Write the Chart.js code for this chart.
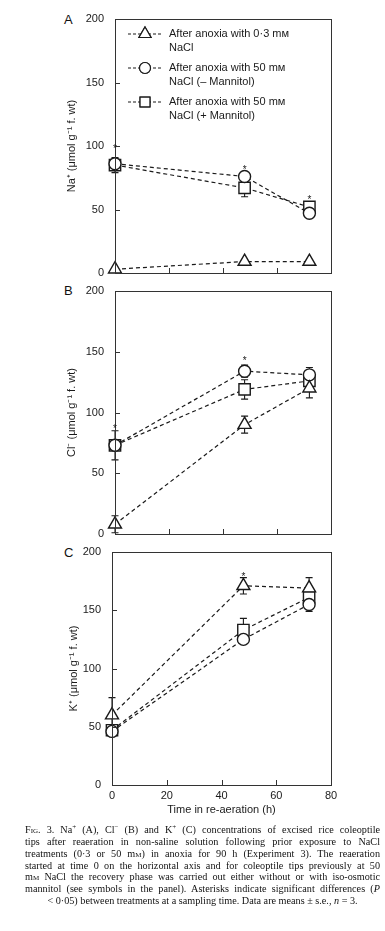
<!DOCTYPE html>
<html>
<head>
<meta charset="utf-8">
<script src="https://cdn.jsdelivr.net/npm/chart.js@4.4.1/dist/chart.umd.min.js"></script>
<style>
body { margin: 0; background: #fff; width: 385px; height: 931px; position: relative; overflow: hidden; font-family: "Liberation Sans", Arial, sans-serif; }
canvas { position: absolute; left: 0; }
.letter { position: absolute; left: 64px; font-size: 13px; line-height: 15px; color: #111; }
#caption { position: absolute; left: 25px; top: 822px; width: 355px; font-family: "Liberation Serif", serif; font-size: 10.2px; line-height: 11.7px; color: #111; }
#caption div { text-align: justify; text-align-last: justify; white-space: nowrap; }
#caption div.last { text-align: center; text-align-last: center; }
.sc { font-variant: small-caps; }
</style>
</head>
<body>
<div class="letter" style="top:12px">A</div>
<div class="letter" style="top:283px">B</div>
<div class="letter" style="top:545px">C</div>
<canvas id="chartA" width="385" height="285" style="top:0px"></canvas>
<canvas id="chartB" width="385" height="265" style="top:280px"></canvas>
<canvas id="chartC" width="385" height="280" style="top:540px"></canvas>
<div id="caption">
<div><span class="sc">Fig</span>. 3. Na<sup style="font-size:7px">+</sup> (A), Cl<sup style="font-size:7px">−</sup> (B) and K<sup style="font-size:7px">+</sup> (C) concentrations of excised rice coleoptile</div>
<div>tips after reaeration in non-saline solution following prior exposure to NaCl</div>
<div>treatments (0·3 or 50 m<span class="sc">m</span>) in anoxia for 90 h (Experiment 3). The reaeration</div>
<div>started at time 0 on the horizontal axis and for coleoptile tips previously at 50</div>
<div>m<span class="sc">m</span> NaCl the recovery phase was carried out either without or with iso-osmotic</div>
<div>mannitol (see symbols in the panel). Asterisks indicate significant differences (<i>P</i></div>
<div class="last">&lt; 0·05) between treatments at a sampling time. Data are means ± s.e., <i>n</i> = 3.</div>
</div>
<script>
// sampling times (h)
const times = [0, 48, 72];

// A: Na+
const naTri = [3, 9, 9];
const naTriErr = [0, 0, 0];
const naCirc = [86, 76, 47];
const naCircErr = [3, 2, 2];
const naSq = [85, 67, 52];
const naSqErr = [6, 7, 4];
const naStars = [101, 85, 61];

// B: Cl-
const clTri = [8, 90, 120];
const clTriErr = [7, 7, 8];
const clCirc = [73, 134, 131];
const clCircErr = [3, 5, 6];
const clSq = [73, 119, 126];
const clSqErr = [12, 8, 5];
const clStars = [90, 146, null];

// C: K+
const kTri = [60, 171, 169];
const kTriErr = [15, 7, 9];
const kCirc = [46, 125, 155];
const kCircErr = [2, 3, 6];
const kSq = [47, 133, 161];
const kSqErr = [4, 10, 5];
const kStars = [null, 183, null];

const yTicks = [0, 50, 100, 150, 200];
const xTicks = [0, 20, 40, 60, 80];

const legendLines = [
    ['After anoxia with 0·3 mᴍ', 'NaCl'],
    ['After anoxia with 50 mᴍ', 'NaCl (– Mannitol)'],
    ['After anoxia with 50 mᴍ', 'NaCl (+ Mannitol)']
];
const legendStyles = ['triangle', 'circle', 'rect'];

const ink = '#1a1a1a';
const fontFamily = '"Liberation Sans", Arial, sans-serif';

function series(values, errors, style, radius) {
    return {
        data: times.map((t, i) => ({ x: t, y: values[i] })),
        errors: errors,
        borderColor: ink,
        borderWidth: 1.2,
        borderDash: [4, 3],
        pointStyle: style,
        pointRadius: radius,
        pointBorderWidth: 1.4,
        pointBorderColor: ink,
        pointBackgroundColor: '#fff',
        clip: false,
        tension: 0
    };
}

// error bars go under the markers
const errorBars = {
    id: 'errorBars',
    beforeDatasetsDraw(chart) {
        const ctx = chart.ctx;
        const ys = chart.scales.y;
        ctx.save();
        ctx.strokeStyle = ink;
        ctx.lineWidth = 1.1;
        chart.data.datasets.forEach(ds => {
            ds.data.forEach((p, i) => {
                const e = ds.errors[i];
                if (!e) return;
                const px = chart.scales.x.getPixelForValue(p.x);
                const top = ys.getPixelForValue(p.y + e);
                const bot = ys.getPixelForValue(p.y - e);
                ctx.beginPath();
                ctx.moveTo(px, top); ctx.lineTo(px, bot);
                ctx.moveTo(px - 3.5, top); ctx.lineTo(px + 3.5, top);
                ctx.moveTo(px - 3.5, bot); ctx.lineTo(px + 3.5, bot);
                ctx.stroke();
            });
        });
        ctx.restore();
    }
};

// box round the plot, inward ticks, asterisks
const frame = {
    id: 'frame',
    afterDraw(chart) {
        const ctx = chart.ctx;
        const a = chart.chartArea;
        const xs = chart.scales.x, ys = chart.scales.y;
        ctx.save();
        ctx.strokeStyle = '#333';
        ctx.lineWidth = 1;
        ctx.strokeRect(Math.round(a.left) + 0.5, Math.round(a.top) + 0.5, Math.round(a.right - a.left), Math.round(a.bottom - a.top));
        ctx.beginPath();
        xTicks.slice(1, -1).forEach(t => {
            const px = Math.round(xs.getPixelForValue(t)) + 0.5;
            ctx.moveTo(px, a.bottom); ctx.lineTo(px, a.bottom - 5);
        });
        yTicks.slice(1, -1).forEach(t => {
            const py = Math.round(ys.getPixelForValue(t)) + 0.5;
            ctx.moveTo(a.left, py); ctx.lineTo(a.left + 5, py);
        });
        ctx.stroke();
        const stars = chart.options.stars || [];
        ctx.fillStyle = ink;
        ctx.font = '10px ' + fontFamily;
        ctx.textAlign = 'center';
        ctx.textBaseline = 'middle';
        stars.forEach((v, i) => {
            if (v == null) return;
            ctx.fillText('*', xs.getPixelForValue(times[i]), ys.getPixelForValue(v) + 5);
        });
        ctx.restore();
    }
};

const legendBox = {
    id: 'legendBox',
    afterDraw(chart) {
        if (!chart.options.showKey) return;
        const ctx = chart.ctx;
        ctx.save();
        ctx.font = '11px ' + fontFamily;
        ctx.fillStyle = ink;
        ctx.strokeStyle = ink;
        ctx.textBaseline = 'middle';
        legendLines.forEach((lines, i) => {
            const cy = 34 + i * 34;
            ctx.lineWidth = 1.1;
            ctx.setLineDash([3, 2]);
            ctx.beginPath();
            ctx.moveTo(128, cy); ctx.lineTo(163, cy);
            ctx.stroke();
            ctx.setLineDash([]);
            ctx.lineWidth = 1.2;
            const r = legendStyles[i] === 'circle' ? 5.5 : 7;
            Chart.helpers.drawPoint(ctx, { pointStyle: legendStyles[i], radius: r, borderWidth: 1.2 }, 145, cy);
            ctx.fillStyle = '#fff';
            ctx.fill();
            ctx.stroke();
            ctx.fillStyle = ink;
            ctx.fillText(lines[0], 169, cy);
            ctx.fillText(lines[1], 169, cy + 13.5);
        });
        ctx.restore();
    }
};

function makePanel(id, cfg) {
    const font = { family: fontFamily, size: 11 };
    new Chart(document.getElementById(id), {
        type: 'line',
        data: {
            datasets: [
                series(cfg.tri, cfg.triErr, 'triangle', 7.5),
                series(cfg.circ, cfg.circErr, 'circle', 6),
                series(cfg.sq, cfg.sqErr, 'rect', 8)
            ]
        },
        options: {
            responsive: false,
            animation: false,
            stars: cfg.stars,
            showKey: cfg.showKey,
            layout: { padding: { top: cfg.padTop, right: 54, bottom: cfg.padBottom, left: 0 } },
            plugins: { legend: { display: false }, tooltip: { enabled: false } },
            scales: {
                x: {
                    type: 'linear', min: 0, max: 80,
                    ticks: { stepSize: 20, display: cfg.showX, color: ink, font: font, padding: 4 },
                    grid: { display: false, drawTicks: false },
                    border: { display: false },
                    title: { display: cfg.showX, text: 'Time in re-aeration (h)', color: ink, font: font, padding: { top: 0, bottom: 3 } },
                    afterFit: s => { s.height = cfg.xHeight; }
                },
                y: {
                    min: 0, max: 200,
                    ticks: { stepSize: 50, color: ink, font: font, padding: 3 },
                    grid: { display: false, drawTicks: true, tickLength: 8 },
                    border: { display: false },
                    title: { display: true, text: cfg.yTitle, color: ink, font: font, padding: { top: cfg.titleOffset, bottom: 0 } },
                    afterFit: s => { s.width = cfg.left; }
                }
            }
        },
        plugins: [errorBars, frame, legendBox]
    });
}

document.addEventListener('DOMContentLoaded', function () {
    makePanel('chartA', {
        tri: naTri, triErr: naTriErr, circ: naCirc, circErr: naCircErr, sq: naSq, sqErr: naSqErr,
        stars: naStars, showKey: true, showX: false, xHeight: 0,
        padTop: 19, padBottom: 12, left: 115, titleOffset: 65,
        yTitle: 'Na⁺ (μmol g⁻¹ f. wt)'
    });
    makePanel('chartB', {
        tri: clTri, triErr: clTriErr, circ: clCirc, circErr: clCircErr, sq: clSq, sqErr: clSqErr,
        stars: clStars, showKey: false, showX: false, xHeight: 0,
        padTop: 11, padBottom: 11, left: 115, titleOffset: 65,
        yTitle: 'Cl⁻ (μmol g⁻¹ f. wt)'
    });
    makePanel('chartC', {
        tri: kTri, triErr: kTriErr, circ: kCirc, circErr: kCircErr, sq: kSq, sqErr: kSqErr,
        stars: kStars, showKey: false, showX: true, xHeight: 35,
        padTop: 12, padBottom: 0, left: 112, titleOffset: 67,
        yTitle: 'K⁺ (μmol g⁻¹ f. wt)'
    });
});
</script>
</body>
</html>
